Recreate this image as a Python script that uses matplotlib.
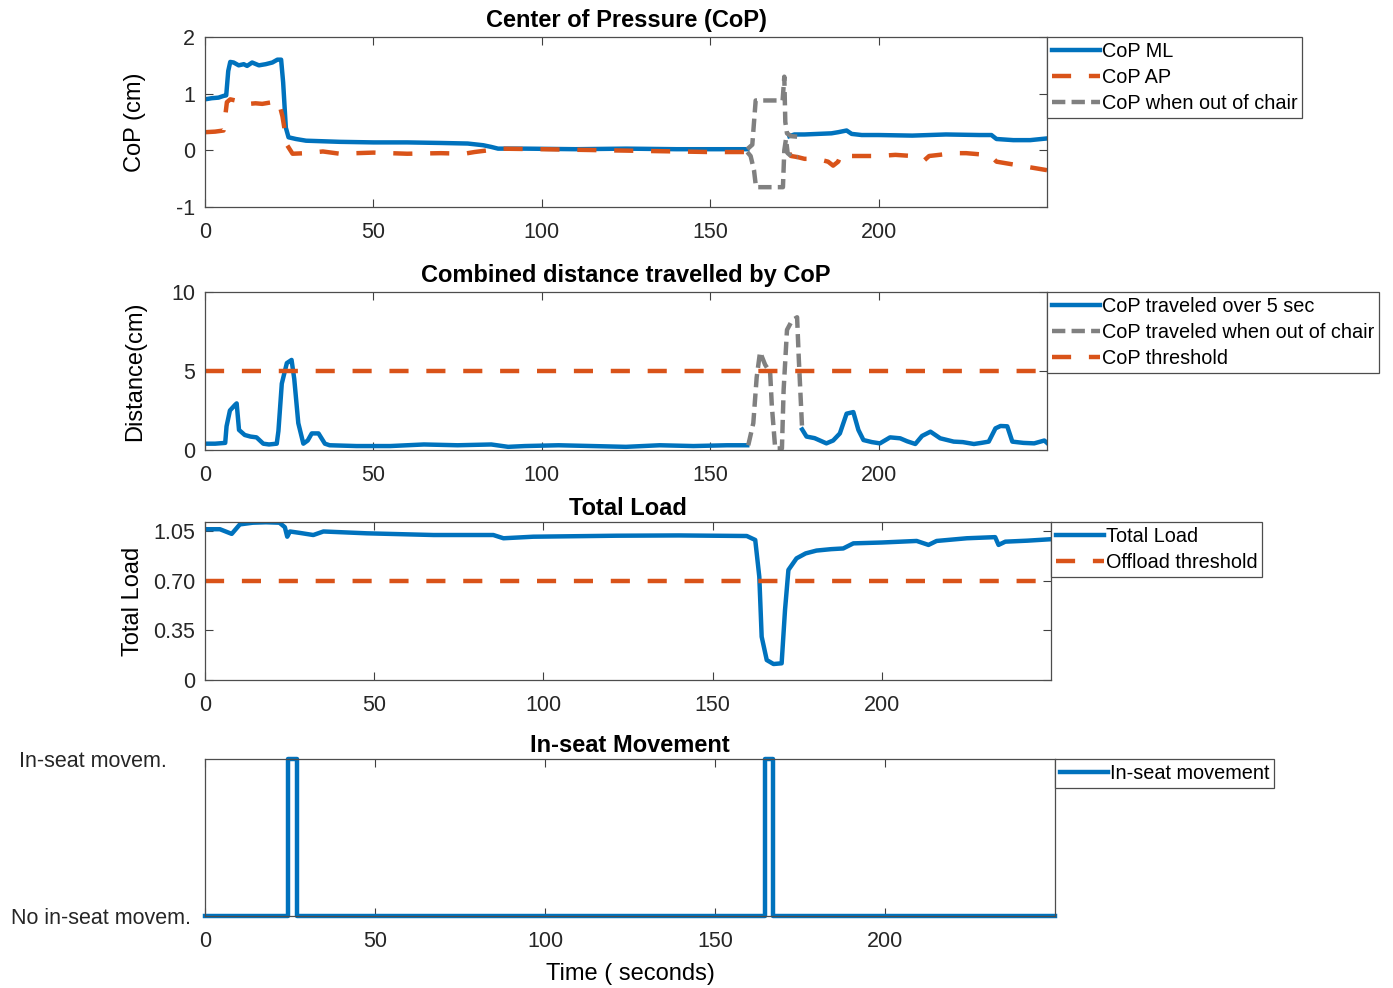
import numpy as np
import matplotlib
matplotlib.use('Agg')
import matplotlib.pyplot as plt

plt.rcParams['font.family'] = ['Liberation Sans', 'DejaVu Sans']
plt.rcParams['axes.unicode_minus'] = False

# ======================================
# COLORES
# ======================================
azul = '#0072BD'
naranja = '#D95319'
gris = '#808080'

# ======================================
# DATOS: CENTRO DE PRESION (CoP)
# ======================================
t_ml1 = [0, 2, 4, 5.5, 6.3, 6.9, 7.5, 8.5, 10, 11.5, 12.5, 14, 16, 18, 20, 21.5, 22.6, 23.2, 24.0, 24.8,
         27, 30, 40, 50, 60, 70, 78, 82.6, 85, 87, 95, 110, 125, 140, 150, 161]
cop_ml1 = [0.90, 0.92, 0.93, 0.96, 0.97, 1.40, 1.56, 1.55, 1.50, 1.52, 1.49, 1.55, 1.50, 1.52, 1.55, 1.60, 1.60,
           1.20, 0.40, 0.23, 0.20, 0.17, 0.15, 0.14, 0.14, 0.13, 0.12, 0.09, 0.06, 0.03, 0.03, 0.02, 0.03, 0.02,
           0.02, 0.02]
t_ml2 = [173.5, 175, 178, 182, 186, 188, 190.5, 192, 195, 200, 210, 220, 230, 233.5, 235, 240, 245, 250]
cop_ml2 = [0.25, 0.28, 0.28, 0.29, 0.30, 0.32, 0.35, 0.29, 0.27, 0.27, 0.26, 0.28, 0.27, 0.27, 0.20, 0.18, 0.18,
           0.21]

t_ap1 = [0, 3, 5.5, 6.0, 6.5, 7.5, 9, 10, 11, 13, 15, 17, 20, 21.8, 23.0, 24.4, 26, 30, 35, 40, 45, 50, 60,
         70, 77, 80, 84, 87, 100, 120, 140, 150, 161]
cop_ap1 = [0.32, 0.33, 0.35, 0.60, 0.85, 0.90, 0.88, 0.90, 0.86, 0.82, 0.83, 0.82, 0.85, 0.88, 0.60, 0.09,
           -0.06, -0.05, -0.02, -0.06, -0.05, -0.04, -0.06, -0.05, -0.06, -0.03, 0.00, 0.03, 0.02, 0.00,
           -0.02, -0.03, -0.03]
t_ap2 = [173.5, 174, 176, 178, 180, 183, 185, 186.5, 188, 189, 190, 192, 195, 200, 205, 210, 212, 213.5,
         215, 218, 222, 226, 230, 233, 235, 240, 245, 250]
cop_ap2 = [-0.05, -0.10, -0.12, -0.15, -0.15, -0.17, -0.20, -0.27, -0.20, -0.05, -0.07, -0.10, -0.10,
           -0.10, -0.08, -0.10, -0.15, -0.18, -0.10, -0.08, -0.05, -0.05, -0.07, -0.08, -0.20, -0.25,
           -0.30, -0.35]

# CoP cuando esta fuera de la silla (ML y AP)
t_out_ml = [161, 162.5, 163.5, 165, 168, 171.5, 172.0, 172.3, 172.8, 174, 176]
cop_out_ml = [0.02, 0.10, 0.88, 0.88, 0.88, 0.88, 1.30, 0.50, 0.30, 0.25, 0.24]
t_out_ap = [161, 162, 163, 163.6, 165, 168, 171.6, 172.0, 172.5, 173, 174, 176]
cop_out_ap = [-0.03, -0.10, -0.35, -0.65, -0.65, -0.65, -0.65, 0.00, 0.20, -0.05, -0.10, -0.12]

# ======================================
# DATOS: DISTANCIA RECORRIDA POR CoP
# ======================================
t_d1 = [0, 3, 6.0, 6.4, 7.4, 8.9, 9.4, 10.1, 11.8, 13.5, 15.3, 17.3, 19, 21.3, 21.8, 22.8, 24.3, 25.7, 26.5,
        27.7, 29.2, 30.5, 31.7, 33.7, 35.6, 37, 45, 55, 65, 75, 85, 90, 95, 105, 115, 125, 135, 145, 155, 161]
dist1 = [0.40, 0.40, 0.45, 1.50, 2.50, 2.85, 2.95, 1.27, 0.95, 0.85, 0.80, 0.40, 0.35, 0.40, 1.20, 4.20,
         5.50, 5.70, 4.50, 1.70, 0.40, 0.60, 1.05, 1.05, 0.40, 0.30, 0.25, 0.25, 0.35, 0.30, 0.35, 0.20,
         0.25, 0.30, 0.25, 0.20, 0.30, 0.25, 0.30, 0.30]
t_d2 = [177.3, 178.6, 181, 184.5, 186.5, 188.5, 190.5, 192.5, 194, 195.5, 198, 200.4, 203.4, 206.4, 208.5,
        210.9, 212.9, 215.4, 218.3, 222.3, 225, 228.3, 230.5, 232.7, 234.7, 236.2, 238.2, 239.7, 243,
        246.2, 249.2, 250]
dist2 = [1.30, 0.85, 0.75, 0.42, 0.60, 1.05, 2.30, 2.40, 1.27, 0.63, 0.50, 0.42, 0.80, 0.74, 0.55, 0.38,
         0.89, 1.16, 0.74, 0.53, 0.50, 0.38, 0.45, 0.53, 1.37, 1.52, 1.50, 0.53, 0.45, 0.42, 0.60, 0.45]
t_d_out = [161.3, 162.8, 163.8, 164.8, 166.3, 167.8, 168.3, 169.3, 171.3, 171.8, 172.8, 174.3, 175.8,
           176.3, 177.3]
dist_out = [0.30, 1.70, 4.60, 6.20, 5.40, 4.90, 2.80, 0.10, 0.10, 3.80, 7.60, 8.20, 8.40, 5.80, 1.30]
umbral_cop = 5

# ======================================
# DATOS: CARGA TOTAL
# ======================================
t_load = [0, 4.4, 7.9, 10.3, 14.1, 18, 22.0, 23.6, 24.3, 25.1, 28, 32, 35, 47.8, 67.5, 85.2, 88.2, 97,
          121.6, 140, 160.1, 162.6, 163.8, 164.5, 166, 168, 170.4, 171.4, 172.4, 174.8, 177.5, 180.7,
          185, 188.6, 191.6, 200, 210.3, 213.8, 216.2, 225.1, 233.5, 234.5, 236.5, 243, 249.8]
load = [1.066, 1.066, 1.033, 1.100, 1.112, 1.115, 1.112, 1.080, 1.013, 1.050, 1.040, 1.025, 1.050, 1.037,
        1.025, 1.025, 1.002, 1.013, 1.020, 1.022, 1.018, 0.990, 0.730, 0.306, 0.141, 0.113, 0.118, 0.495,
        0.778, 0.860, 0.895, 0.915, 0.925, 0.930, 0.966, 0.972, 0.983, 0.955, 0.983, 1.002, 1.010, 0.955,
        0.978, 0.985, 0.995]
umbral_carga = 0.70

# ======================================
# DATOS: MOVIMIENTO EN EL ASIENTO
# ======================================
t_mov = [0, 24.5, 27.0, 164.7, 167.1, 250]
mov = [0, 1, 0, 1, 0, 0]

# ======================================
# FIGURA
# ======================================
fig = plt.figure(figsize=(13.93, 9.88), dpi=100)

W, H = 1393, 988
def ejes(x0, y0, x1, y1):
    return fig.add_axes([x0 / W, 1 - y1 / H, (x1 - x0) / W, (y1 - y0) / H])

ax1 = ejes(205, 37, 1047, 207)
ax2 = ejes(205, 292, 1047, 450)
ax3 = ejes(205, 522, 1051, 680)
ax4 = ejes(205, 759, 1055, 916)

lw = 3.2
dash_or = (4.3, 4.0)
dash_gr = (3.0, 1.4)
f_tit = 17
f_lab = 17

# --- CoP ---
ax1.plot(t_ml1, cop_ml1, color=azul, lw=lw, label='CoP ML')
ax1.plot(t_ap1, cop_ap1, color=naranja, lw=lw, dashes=dash_or, label='CoP AP')
ax1.plot(t_ml2, cop_ml2, color=azul, lw=lw)
ax1.plot(t_ap2, cop_ap2, color=naranja, lw=lw, dashes=dash_or)
ax1.plot(t_out_ml, cop_out_ml, color=gris, lw=lw, dashes=dash_gr, label='CoP when out of chair')
ax1.plot(t_out_ap, cop_out_ap, color=gris, lw=lw, dashes=dash_gr)
ax1.set_ylim(-1, 2)
ax1.set_yticks([-1, 0, 1, 2])
ax1.set_ylabel('CoP (cm)', fontsize=f_lab)
ax1.yaxis.set_label_coords(-0.070, 0.5)
ax1.set_title('Center of Pressure (CoP)', fontsize=f_tit, fontweight='bold', pad=7)

# --- Distancia ---
ax2.plot(t_d1, dist1, color=azul, lw=lw, label='CoP traveled over 5 sec')
ax2.plot(t_d2, dist2, color=azul, lw=lw)
ax2.plot(t_d_out, dist_out, color=gris, lw=lw, dashes=dash_gr, label='CoP traveled when out of chair')
ax2.axhline(umbral_cop, color=naranja, lw=lw, dashes=dash_or, label='CoP threshold')
ax2.set_ylim(0, 10)
ax2.set_yticks([0, 5, 10])
ax2.set_ylabel('Distance(cm)', fontsize=f_lab)
ax2.yaxis.set_label_coords(-0.070, 0.5)
ax2.set_title('Combined distance travelled by CoP', fontsize=f_tit, fontweight='bold', pad=7)

# --- Carga total ---
ax3.plot(t_load, load, color=azul, lw=lw, label='Total Load')
ax3.axhline(umbral_carga, color=naranja, lw=lw, dashes=dash_or, label='Offload threshold')
ax3.set_ylim(0, 1.117)
ax3.set_yticks([0, 0.35, 0.70, 1.05])
ax3.set_yticklabels(['0', '0.35', '0.70', '1.05'])
ax3.set_ylabel('Total Load', fontsize=f_lab)
ax3.yaxis.set_label_coords(-0.072, 0.5)
ax3.set_title('Total Load', fontsize=f_tit, fontweight='bold', pad=5)

# --- Movimiento ---
ax4.plot(t_mov, mov, color=azul, lw=lw, drawstyle='steps-post', label='In-seat movement', clip_on=False)
ax4.set_ylim(0, 1)
ax4.set_yticks([0, 1])
ax4.set_yticklabels(['No in-seat movem.', 'In-seat movem.    '])
ax4.set_xlabel('Time ( seconds)', fontsize=f_lab, labelpad=8)
ax4.set_title('In-seat Movement', fontsize=f_tit, fontweight='bold', pad=5)

for ax in (ax1, ax2, ax3, ax4):
    ax.set_xlim(0, 250)
    ax.set_xticks([0, 50, 100, 150, 200])
    ax.tick_params(direction='in', top=True, right=True, length=6, width=0.8,
                   labelsize=15.5, colors='#404040', labelcolor='#262626')
    ax.tick_params(axis='x', pad=11)
    ax.tick_params(axis='y', pad=7)
    for s in ax.spines.values():
        s.set_color('#4d4d4d')
        s.set_linewidth(0.9)
    leg = ax.legend(loc='upper left', bbox_to_anchor=(1.0, 1.0), borderaxespad=0, fontsize=14.3,
                    fancybox=False, edgecolor='#4d4d4d', framealpha=1, handlelength=2.4,
                    handletextpad=0.1, borderpad=0.25, labelspacing=0.35)
    leg.get_frame().set_linewidth(0.9)

ax4.tick_params(axis='y', length=0, pad=10)

plt.savefig('out.png', dpi=100)
